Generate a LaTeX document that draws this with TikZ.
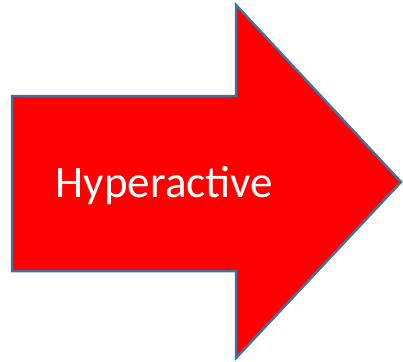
\documentclass[tikz,border=0pt]{standalone}
\usepackage{fontspec}
\setmainfont{Carlito}
\usepackage{tikz}
\definecolor{arrowred}{HTML}{FF0000}
\definecolor{outline}{HTML}{41719C}
\tikzset{
  bigarrow/.style={draw=outline,fill=arrowred,line width=2.5pt,line join=miter},
  arrowtext/.style={anchor=base,text=white,inner sep=0pt,font=\fontsize{45}{54}\selectfont}
}
\begin{document}
\begin{tikzpicture}[x=1pt,y=-1pt]
  \useasboundingbox (0,0) rectangle (403,361);
  % shape of the arrow
  \draw[bigarrow] (12,96) -- (236,96) -- (236,5) -- (401,182) -- (236,358) -- (236,271) -- (12,271) -- cycle;
  \node[arrowtext] (hyper) at (164.5,197.5) {Hyperactive};
\end{tikzpicture}
\end{document}
